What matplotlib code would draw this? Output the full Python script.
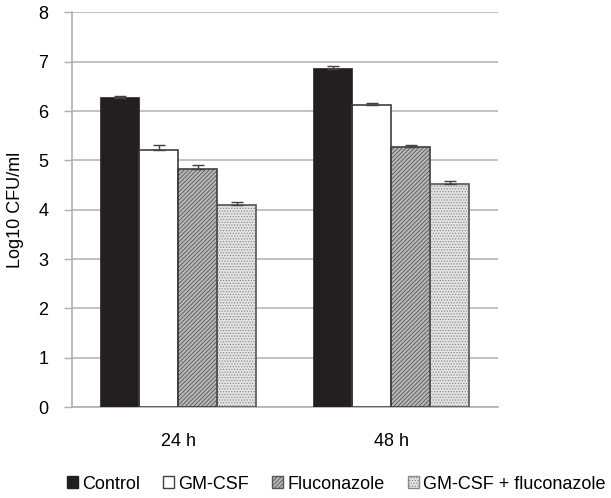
import matplotlib
matplotlib.use("Agg")
import matplotlib.pyplot as plt
from matplotlib.patches import Patch
import numpy as np

plt.rcParams['font.family'] = ['Liberation Sans', 'DejaVu Sans']
plt.rcParams['hatch.linewidth'] = 0.6

groups = ["24 h", "48 h"]
series = ["Control", "GM-CSF", "Fluconazole", "GM-CSF + fluconazole"]
values = {
    "Control": [6.27, 6.86],
    "GM-CSF": [5.22, 6.12],
    "Fluconazole": [4.83, 5.27],
    "GM-CSF + fluconazole": [4.10, 4.52],
}
errors = {
    "Control": [0.03, 0.06],
    "GM-CSF": [0.10, 0.05],
    "Fluconazole": [0.07, 0.05],
    "GM-CSF + fluconazole": [0.05, 0.06],
}

styles = {
    "Control": dict(color="#231f20", edgecolor="#231f20", hatch=None, hc=None),
    "GM-CSF": dict(color="white", edgecolor="#404040", hatch=None, hc=None),
    "Fluconazole": dict(color="#b8b8b8", edgecolor="#404040", hatch="////////", hc="#555555"),
    "GM-CSF + fluconazole": dict(color="#e4e4e4", edgecolor="#555555", hatch="......", hc="#8a8a8a"),
}

fig = plt.figure(figsize=(6.11, 4.98), dpi=100)
ax = fig.add_axes([0.1178, 0.1827, 0.815 - 0.1178, 0.975 - 0.1827])

x = np.arange(len(groups))
w = 0.183
offsets = (np.arange(len(series)) - 1.5) * w
handles = []
for i, s in enumerate(series):
    st = styles[s]
    ax.bar(x + offsets[i], values[s], width=w, color=st["color"],
           edgecolor=st["hc"] or st["edgecolor"], linewidth=0, hatch=st["hatch"],
           zorder=3)
    ax.bar(x + offsets[i], values[s], width=w, fill=False,
           edgecolor=st["edgecolor"], linewidth=1.2, zorder=3.5)
    ax.errorbar(x + offsets[i], values[s], yerr=[np.zeros(2), errors[s]],
                fmt="none", ecolor="#404040", elinewidth=1.0, capsize=4,
                capthick=1.0, zorder=4)
    handles.append(Patch(facecolor=st["color"], edgecolor=st["hc"] or st["edgecolor"],
                         hatch=st["hatch"], linewidth=1.0, label=s))

ax.set_xlim(-0.5, 1.5)
ax.set_ylim(0, 8)
ax.set_yticks(range(0, 9))
ax.set_xticks(x)
ax.set_xticklabels(groups)
ax.tick_params(axis="x", length=0, labelsize=13, pad=19)
ax.tick_params(axis="y", length=6, width=1, color="#b0b0b0", labelsize=13, pad=11)
ax.yaxis.grid(True, color="#b8b8b8", linewidth=1.2, zorder=0)
ax.set_axisbelow(True)
for sp in ["top", "right"]:
    ax.spines[sp].set_visible(False)
ax.spines["left"].set_color("#b0b0b0")
ax.spines["bottom"].set_color("#b0b0b0")
ax.spines["left"].set_linewidth(1.2)
ax.spines["bottom"].set_linewidth(1.2)
ax.set_ylabel("Log10 CFU/ml", fontsize=13, labelpad=10)

leg = fig.legend(handles=handles, loc="center", bbox_to_anchor=(0.55, 0.028), ncol=4,
                 frameon=False, fontsize=13, handlelength=0.62, handleheight=0.62,
                 handletextpad=0.2, columnspacing=1.3, borderpad=0, borderaxespad=0)

fig.savefig("out.png", dpi=100)
